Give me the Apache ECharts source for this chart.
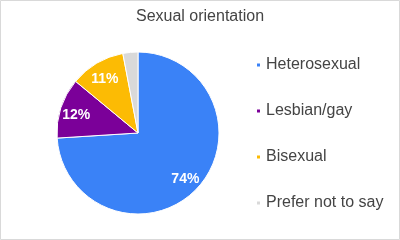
<!DOCTYPE html>
<html>
<head>
<meta charset="utf-8">
<script src="https://cdn.jsdelivr.net/npm/echarts@6/dist/echarts.min.js"></script>
<style>
html,body{margin:0;padding:0;background:#fff;}
#chart{width:400px;height:240px;}
</style>
</head>
<body>
<div id="chart"></div>
<script>
const categories = ["Heterosexual", "Lesbian/gay", "Bisexual", "Prefer not to say"];
const values = [74, 12, 11, 3];
const colors = ["#3a82f7", "#7b0099", "#fcbb04", "#d9d9d9"];
const title = "Sexual orientation";

const data = categories.map((c, i) => ({ name: c, value: values[i], itemStyle: { color: colors[i] } }));
const font = "Arial, 'Liberation Sans', sans-serif";

const chart = echarts.init(document.getElementById('chart'), null, { renderer: 'canvas' });
chart.setOption({
  animation: false,
  backgroundColor: '#fff',
  title: {
    text: title, left: 'center', top: 3, padding: 5,
    textStyle: { fontFamily: font, fontSize: 16, fontWeight: 'normal', color: '#444', lineHeight: 18 }
  },
  legend: {
    orient: 'vertical', left: 255, top: 57, padding: 0,
    itemWidth: 5, itemHeight: 5, itemGap: 30, icon: 'rect',
    data: categories,
    textStyle: { fontFamily: font, fontSize: 16, color: '#444', lineHeight: 16 }
  },
  graphic: [{
    type: 'rect', shape: { x: 0.5, y: 0.5, width: 399, height: 239 },
    style: { fill: 'none', stroke: '#d9d9d9', lineWidth: 1 }, silent: true, z: 100
  }],
  series: [
    {
      type: 'pie', center: [138, 133], radius: [0, 81], startAngle: 90, clockwise: true,
      data: data, label: { show: false }, labelLine: { show: false },
      itemStyle: { borderColor: '#fff', borderWidth: 1 }, emphasis: { disabled: true }
    },
    {
      type: 'pie', center: [138, 135], radius: [43, 81], startAngle: 90, clockwise: true,
      data: categories.map((c, i) => ({ name: c, value: values[i], itemStyle: { color: 'rgba(0,0,0,0)' } })),
      silent: true, emphasis: { disabled: true }, z: 3,
      itemStyle: { borderWidth: 0 },
      label: {
        show: true, position: 'inside', fontFamily: font, fontSize: 14, fontWeight: 'bold', color: '#fff',
        formatter: p => p.value >= 5 ? p.value + '%' : ''
      },
      labelLine: { show: false }
    }
  ]
});
</script>
</body>
</html>
